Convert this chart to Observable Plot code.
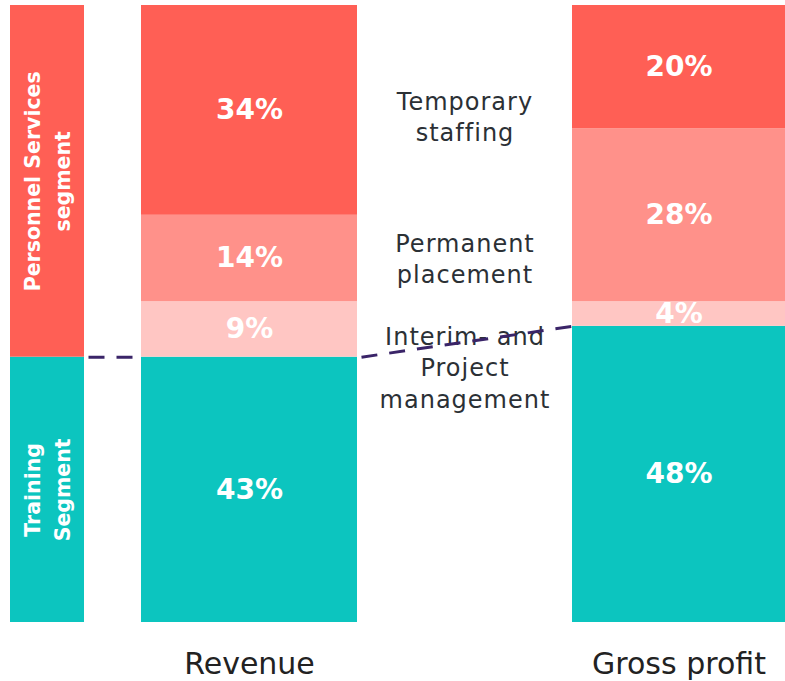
<!DOCTYPE html>
<html><head><meta charset="utf-8">
<script src="https://cdn.jsdelivr.net/npm/d3@7"></script>
<script src="https://cdn.jsdelivr.net/npm/@observablehq/plot@0.6"></script>
<style>
body{margin:0;background:#fff}
#chart svg{display:block}
#chart .mid text{letter-spacing:1px}
</style>
</head><body><div id="chart"></div>
<script>
// ---- data ----
const bars = ["Revenue", "Gross profit"];
const businessLines = ["Training", "Interim- and Project management", "Permanent placement", "Temporary staffing"];
const revenueShares = [43, 9, 14, 34];
const grossProfitShares = [48, 4, 28, 20];
const segmentNames = ["Training\nSegment", "Personnel Services\nsegment"];
const segmentShares = [43, 57];
const middleLabels = ["Interim- and\nProject\nmanagement", "Permanent\nplacement", "Temporary\nstaffing"];

// ---- styling / layout ----
const lineColors = {"Training": "#0cc5bf", "Interim- and Project management": "#ffc6c3", "Permanent placement": "#ff918a", "Temporary staffing": "#ff5f55"};
const segColors = ["#0cc5bf", "#ff5f55"];
const layout = {Segment: [10, 84], "Revenue": [141, 357], "Gross profit": [572, 785]};
const font = "'DejaVu Sans', sans-serif";
const labelShift = [37, -1, 5];

function stack(bar, keys, values) {
  let acc = 0;
  return values.map((v, i) => ({bar, key: keys[i], value: v, y1: acc, y2: (acc += v), i}));
}
const revRows = stack(bars[0], businessLines, revenueShares);
const gpRows = stack(bars[1], businessLines, grossProfitShares);
const segRows = stack("Segment", segmentNames, segmentShares);
const barRows = revRows.concat(gpRows);

const midX = (layout["Revenue"][1] + layout["Gross profit"][0]) / 2;
const labelRows = middleLabels.map((t, i) => ({text: t, y: (revRows[i + 1].y1 + revRows[i + 1].y2) / 2}));

const linkRows = [
  {x1: layout.Segment[1] + 4, x2: layout["Revenue"][0], y1: revRows[0].y2, y2: revRows[0].y2},
  {x1: layout["Revenue"][1] + 4, x2: layout["Gross profit"][0], y1: revRows[0].y2, y2: gpRows[0].y2}
];

const chart = Plot.plot({
  width: 785, height: 681,
  marginTop: 5, marginBottom: 59, marginLeft: 0, marginRight: 0,
  x: {domain: [0, 785], axis: null},
  y: {domain: [0, 100], axis: null},
  color: {type: "identity"},
  style: {fontFamily: font, background: "white"},
  marks: [
    Plot.rect(segRows, {x1: d => layout.Segment[0], x2: d => layout.Segment[1], y1: "y1", y2: "y2", fill: d => segColors[d.i]}),
    Plot.rect(barRows, {x1: d => layout[d.bar][0], x2: d => layout[d.bar][1], y1: "y1", y2: "y2", fill: d => lineColors[d.key]}),
    Plot.text(barRows, {x: d => (layout[d.bar][0] + layout[d.bar][1]) / 2, y: d => (d.y1 + d.y2) / 2, text: d => d.value + "%", fill: "white", fontSize: 28, fontWeight: 700}),
    Plot.text(segRows, {x: d => (layout.Segment[0] + layout.Segment[1]) / 2 - 2, y: d => (d.y1 + d.y2) / 2, text: "key", rotate: -90, fill: "white", fontSize: 20.5, fontWeight: 700, lineHeight: 1.45}),
    ...labelRows.map((r, i) => Plot.text([r], {x: midX, y: "y", dy: labelShift[i], text: "text", fill: "#2b3035", fontSize: 24, lineHeight: 1.3, className: "mid"})),
    Plot.link(linkRows, {x1: "x1", x2: "x2", y1: "y1", y2: "y2", stroke: "#3a2468", strokeWidth: 3, strokeDasharray: "16 12"}),
    Plot.text(bars, {x: d => (layout[d][0] + layout[d][1]) / 2, y: 0, dy: 51, lineAnchor: "bottom", text: d => d, fill: "#222", fontSize: 30})
  ]
});
document.getElementById("chart").append(chart);
</script>
</body></html>
